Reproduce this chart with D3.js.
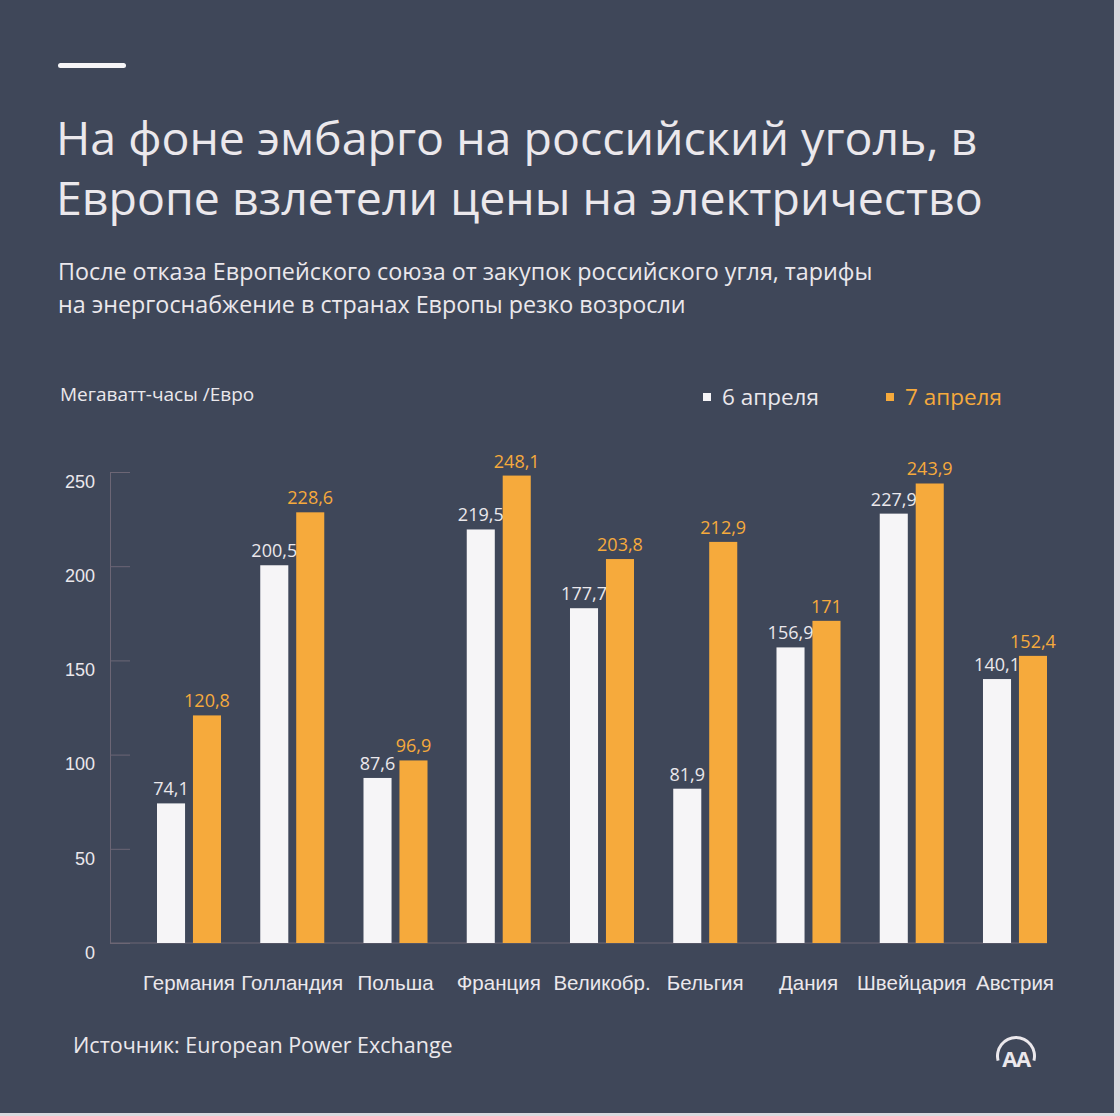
<!DOCTYPE html>
<html>
<head>
<meta charset="utf-8">
<script src="https://cdn.jsdelivr.net/npm/d3@7"></script>
<style>
  body { margin: 0; background: #3f4759; }
  svg { display: block; font-family: "Open Sans", "Noto Sans", sans-serif; }
</style>
</head>
<body>
<svg width="1120" height="1116"></svg>
<script>
var countries = ["Германия", "Голландия", "Польша", "Франция", "Великобр.", "Бельгия", "Дания", "Швейцария", "Австрия"];
var april6 = [74.1, 200.5, 87.6, 219.5, 177.7, 81.9, 156.9, 227.9, 140.1];
var april7 = [120.8, 228.6, 96.9, 248.1, 203.8, 212.9, 171, 243.9, 152.4];
var seriesNames = ["6 апреля", "7 апреля"];
var yTicks = [0, 50, 100, 150, 200, 250];

var titleLines = ["На фоне эмбарго на российский уголь, в", "Европе взлетели цены на электричество"];
var subtitleLines = ["После отказа Европейского союза от закупок российского угля, тарифы",
                     "на энергоснабжение в странах Европы резко возросли"];

var bg = "#3f4759",
    white = "#f6f5f7",
    orange = "#f6aa3c",
    textCol = "#ebe8ec",
    axisCol = "#6c6675";

var svg = d3.select("svg");

svg.append("rect").attr("width", 1120).attr("height", 1116).attr("fill", bg);
// light frame on the right and bottom edges
svg.append("rect").attr("x", 1114).attr("y", 0).attr("width", 6).attr("height", 1116).attr("fill", "#d9d9de");
svg.append("rect").attr("x", 0).attr("y", 1113).attr("width", 1120).attr("height", 3).attr("fill", "#d9d9de");

// header
svg.append("rect").attr("x", 58).attr("y", 63).attr("width", 68).attr("height", 5).attr("rx", 2.5).attr("fill", white);

svg.selectAll(".title").data(titleLines).enter().append("text")
    .attr("class", "title")
    .attr("x", 56).attr("y", function(d, i) { return 155 + i * 60; })
    .attr("fill", textCol).style("font-size", "46.5px")
    .text(function(d) { return d; });

svg.selectAll(".subtitle").data(subtitleLines).enter().append("text")
    .attr("class", "subtitle")
    .attr("x", 58).attr("y", function(d, i) { return 280 + i * 33; })
    .attr("fill", textCol).style("font-size", "23.3px")
    .text(function(d) { return d; });

svg.append("text").attr("x", 60).attr("y", 401)
    .attr("fill", textCol).style("font-size", "19px")
    .text("Мегаватт-часы /Евро");

// legend
var legend = svg.selectAll(".legend").data(seriesNames).enter().append("g")
    .attr("class", "legend")
    .attr("transform", function(d, i) { return "translate(" + (703 + i * 183) + ",393)"; });
legend.append("rect").attr("width", 8).attr("height", 8)
    .attr("fill", function(d, i) { return i ? orange : white; });
legend.append("text").attr("x", 19).attr("y", 12)
    .style("font-size", "22.5px")
    .attr("fill", function(d, i) { return i ? orange : textCol; })
    .text(function(d) { return d; });

// chart
var x0 = d3.scaleBand().domain(countries).range([157, 1047]).paddingInner(0.38).paddingOuter(0);
var x1 = d3.scaleBand().domain([0, 1]).range([0, x0.bandwidth()]).paddingInner(0.22);
var y = d3.scaleLinear().domain([0, 250]).range([943, 472]);

var yAxis = svg.append("g").attr("transform", "translate(110,0)")
    .call(d3.axisLeft(y).tickValues(yTicks).tickSize(-20).tickSizeOuter(0).tickPadding(15));
yAxis.select(".domain").attr("stroke", axisCol);
yAxis.selectAll(".tick line").attr("stroke", axisCol);
yAxis.selectAll(".tick text").attr("fill", textCol).attr("dy", "0.85em")
    .style("font-size", "18px").style("font-family", "inherit");

svg.append("line").attr("x1", 110).attr("x2", 1047).attr("y1", y(0)).attr("y2", y(0))
    .attr("stroke", axisCol);

var rows = countries.map(function(c, i) { return { country: c, values: [april6[i], april7[i]] }; });
var fmt = function(v) { return String(v).replace(".", ","); };

var groups = svg.selectAll(".group").data(rows).enter().append("g")
    .attr("class", "group")
    .attr("transform", function(d) { return "translate(" + x0(d.country) + ",0)"; });

groups.selectAll("rect").data(function(d) { return d.values; }).enter().append("rect")
    .attr("x", function(d, i) { return x1(i); })
    .attr("y", function(d) { return y(d); })
    .attr("width", x1.bandwidth())
    .attr("height", function(d) { return y(0) - y(d); })
    .attr("fill", function(d, i) { return i ? orange : white; });

groups.selectAll("text").data(function(d) { return d.values; }).enter().append("text")
    .attr("x", function(d, i) { return x1(i) + x1.bandwidth() / 2; })
    .attr("y", function(d) { return y(d) - 8; })
    .attr("text-anchor", "middle")
    .style("font-size", "18px")
    .attr("fill", function(d, i) { return i ? orange : textCol; })
    .text(fmt);

var xAxis = svg.append("g").attr("transform", "translate(0," + y(0) + ")")
    .call(d3.axisBottom(x0).tickSize(0).tickPadding(32));
xAxis.select(".domain").remove();
xAxis.selectAll(".tick text").attr("fill", textCol)
    .style("font-size", "20.5px").style("font-family", "inherit");

// footer
svg.append("text").attr("x", 73).attr("y", 1053)
    .attr("fill", textCol).style("font-size", "21.5px")
    .text("Источник: European Power Exchange");

var logo = svg.append("g").attr("transform", "translate(1016,1056)");
logo.append("path")
    .attr("d", d3.arc().innerRadius(17).outerRadius(20).startAngle(-Math.PI / 2 - 0.25).endAngle(Math.PI / 2 + 0.25)())
    .attr("fill", textCol);
logo.append("text").attr("y", 11).attr("text-anchor", "middle")
    .attr("fill", textCol).style("font-size", "22px").style("font-weight", "bold")
    .attr("letter-spacing", "-1.5")
    .text("AA");
</script>
</body>
</html>
